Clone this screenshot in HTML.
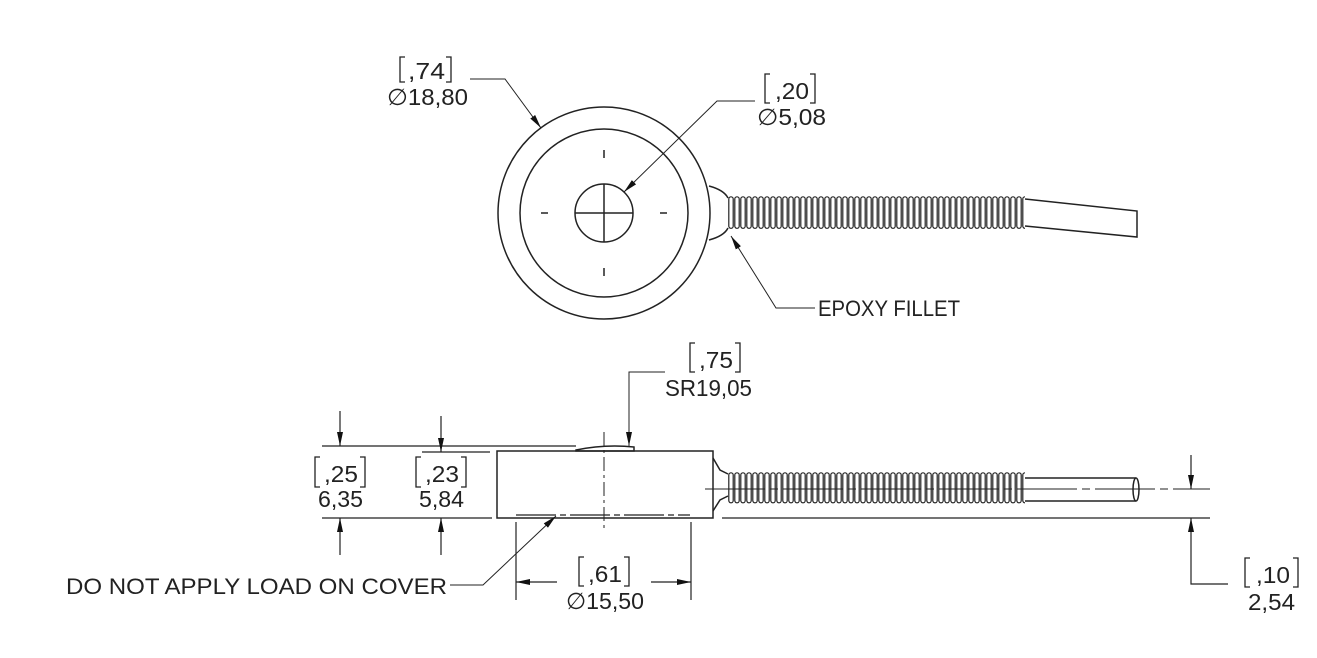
<!DOCTYPE html>
<html><head><meta charset="utf-8"><style>
html,body{margin:0;padding:0;background:#fff}
svg{display:block}
text{font-family:"Liberation Sans",sans-serif;font-size:23px;fill:#222}
</style></head><body>
<svg width="1317" height="658" viewBox="0 0 1317 658" xmlns="http://www.w3.org/2000/svg">
<defs>
<pattern id="c1" x="728" y="196" width="6" height="34" patternUnits="userSpaceOnUse">
<rect x="0.8" y="0.8" width="4.4" height="31.5" rx="2.2" fill="none" stroke="#222" stroke-width="1.2"/>
</pattern>
<pattern id="c2" x="728" y="472" width="6" height="32" patternUnits="userSpaceOnUse">
<rect x="0.8" y="0.8" width="4.4" height="30" rx="2.2" fill="none" stroke="#222" stroke-width="1.2"/>
</pattern>
<marker id="a" markerWidth="14" markerHeight="8" refX="14" refY="4" orient="auto" markerUnits="userSpaceOnUse">
<path d="M0,1 L14,4 L0,7 z" fill="#111"/>
</marker>
</defs>
<g fill="none" stroke="#222" stroke-width="1.5">
<circle cx="604" cy="213" r="106"/>
<circle cx="604" cy="213" r="84"/>
<circle cx="604" cy="213" r="29"/>
<line x1="575" y1="213" x2="633" y2="213"/>
<line x1="604" y1="184" x2="604" y2="242"/>
<line x1="604" y1="150" x2="604" y2="158"/><line x1="604" y1="268" x2="604" y2="276"/>
<line x1="541" y1="213" x2="548" y2="213"/><line x1="660" y1="213" x2="667" y2="213"/>
<path d="M709,186 Q724,190 728,198 M709,240 Q724,236 728,228"/>
<rect x="728" y="196" width="297" height="34" fill="url(#c1)" stroke="none"/>
<path d="M1025,199 L1137,211 L1137,237 L1025,226"/>
<path d="M470,79 L505,79 L541,128" stroke-width="1" marker-end="url(#a)"/>
<path d="M755,101 L717,101 L624,192" stroke-width="1" marker-end="url(#a)"/>
<path d="M815,308 L776,308 L731,236" stroke-width="1" marker-end="url(#a)"/>
<rect x="497" y="451" width="216" height="67"/>
<path d="M576,450 Q605,444 634,447 L634,451 L576,451 z"/>
<line x1="516" y1="515" x2="690" y2="515" stroke-width="1.2" stroke-dasharray="40 4 6 4"/>
<line x1="604" y1="432" x2="604" y2="532" stroke-width="1" stroke-dasharray="14 4 3 4"/>
<path d="M713,458 L720,470 L728,474 M713,511 L720,500 L728,496"/>
<rect x="728" y="472" width="297" height="32" fill="url(#c2)" stroke="none"/>
<path d="M1025,478 L1136,478 M1025,501 L1136,501"/>
<ellipse cx="1136" cy="489.5" rx="3" ry="11.5"/>
<line x1="705" y1="489" x2="1210" y2="489" stroke-width="1" stroke-dasharray="60 5 8 5"/>
<line x1="722" y1="518" x2="1210" y2="518" stroke-width="1.2"/>
<g stroke-width="1.2">
<line x1="322" y1="446" x2="576" y2="446"/>
<line x1="422" y1="452" x2="490" y2="452"/>
<line x1="322" y1="518" x2="492" y2="518"/>
<line x1="340" y1="411" x2="340" y2="446" marker-end="url(#a)"/>
<line x1="340" y1="555" x2="340" y2="518" marker-end="url(#a)"/>
<line x1="441" y1="416" x2="441" y2="452" marker-end="url(#a)"/>
<line x1="441" y1="555" x2="441" y2="518" marker-end="url(#a)"/>
<line x1="516" y1="522" x2="516" y2="600"/>
<line x1="691" y1="522" x2="691" y2="600"/>
<line x1="557" y1="582" x2="516" y2="582" marker-end="url(#a)"/>
<line x1="651" y1="582" x2="691" y2="582" marker-end="url(#a)"/>
<path d="M450,585 L483,585 L556,516" stroke-width="1" marker-end="url(#a)"/>
<path d="M665,372 L629,372 L629,446" stroke-width="1" marker-end="url(#a)"/>
<line x1="1191" y1="455" x2="1191" y2="489" marker-end="url(#a)"/>
<path d="M1228,584 L1191,584 L1191,518" marker-end="url(#a)"/>
</g>
<!-- brackets -->
<g stroke-width="1.3">
<path d="M405,57 L400,57 L400,82 L405,82 M446,57 L451,57 L451,82 L446,82"/>
<path d="M770,74 L765,74 L765,103 L770,103 M810,74 L815,74 L815,103 L810,103"/>
<path d="M320,457 L315,457 L315,487 L320,487 M360,457 L365,457 L365,487 L360,487"/>
<path d="M421,457 L416,457 L416,487 L421,487 M461,457 L466,457 L466,487 L461,487"/>
<path d="M584,557 L579,557 L579,586 L584,586 M624,557 L629,557 L629,586 L624,586"/>
<path d="M695,343 L690,343 L690,372 L695,372 M735,343 L740,343 L740,372 L735,372"/>
<path d="M1250,558 L1245,558 L1245,587 L1250,587 M1293,558 L1298,558 L1298,587 L1293,587"/>
</g>
</g>
<text x="408" y="79" textLength="37" lengthAdjust="spacingAndGlyphs">,74</text>
<text x="387" y="105" textLength="81" lengthAdjust="spacingAndGlyphs">∅18,80</text>
<text x="775" y="99" textLength="34" lengthAdjust="spacingAndGlyphs">,20</text>
<text x="757" y="125" textLength="69" lengthAdjust="spacingAndGlyphs">∅5,08</text>
<text x="818" y="316" textLength="142" lengthAdjust="spacingAndGlyphs" style="font-size:22px">EPOXY FILLET</text>
<text x="699" y="368" textLength="34" lengthAdjust="spacingAndGlyphs">,75</text>
<text x="665" y="396" textLength="87" lengthAdjust="spacingAndGlyphs">SR19,05</text>
<text x="324" y="482" textLength="34" lengthAdjust="spacingAndGlyphs">,25</text>
<text x="318" y="507" textLength="45" lengthAdjust="spacingAndGlyphs">6,35</text>
<text x="425" y="482" textLength="34" lengthAdjust="spacingAndGlyphs">,23</text>
<text x="419" y="507" textLength="45" lengthAdjust="spacingAndGlyphs">5,84</text>
<text x="588" y="582" textLength="34" lengthAdjust="spacingAndGlyphs">,61</text>
<text x="566" y="609" textLength="78" lengthAdjust="spacingAndGlyphs">∅15,50</text>
<text x="66" y="594" textLength="381" lengthAdjust="spacingAndGlyphs" style="font-size:22px">DO NOT APPLY LOAD ON COVER</text>
<text x="1256" y="583" textLength="34" lengthAdjust="spacingAndGlyphs">,10</text>
<text x="1248" y="610" textLength="47" lengthAdjust="spacingAndGlyphs">2,54</text>
</svg>
</body></html>
